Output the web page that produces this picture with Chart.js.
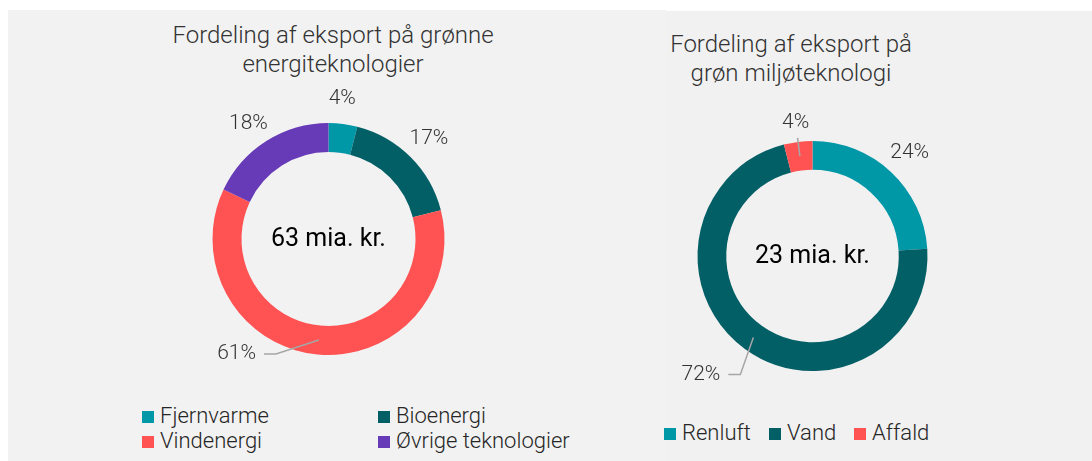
<!DOCTYPE html>
<html>
<head>
<meta charset="utf-8">
<script src="https://cdn.jsdelivr.net/npm/chart.js@4.4.1/dist/chart.umd.min.js"></script>
<style>
  html, body { margin:0; padding:0; background:#ffffff; }
  #wrap { position:relative; width:1092px; height:461px; overflow:hidden; font-family: Roboto, "Noto Sans", sans-serif; }
  .panel { position:absolute; }
  #pL { left:8px; top:10px; width:658px; height:451px; background:#f2f2f2; }
  #pR { left:666px; top:11px; width:426px; height:450px; background:#f1f1f1; }
  canvas { position:absolute; left:0; top:0; }
  .title { position:absolute; transform:translateX(-50%); text-align:center; white-space:nowrap;
           font-size:24px; font-weight:300; line-height:29px; color:#333333; }
  .leg { position:absolute; font-size:22px; font-weight:300; color:#262626; white-space:nowrap; line-height:24px; }
  .leg .box { display:inline-block; width:12px; height:12px; margin-right:6px; vertical-align:0px; }
</style>
</head>
<body>
<div id="wrap">
  <div class="panel" id="pL"></div>
  <div class="panel" id="pR"></div>
  <div class="title" id="tL" style="left:333px; top:21px;"></div>
  <div class="title" id="tR" style="left:791px; top:30px;"></div>
  <div id="legL"></div>
  <div id="legR"></div>
  <canvas id="cL" width="1092" height="461"></canvas>
  <canvas id="cR" width="1092" height="461"></canvas>
</div>
<script>
// ---------- DATA ----------
const energyTitle = ["Fordeling af eksport på grønne", "energiteknologier"];
const energyCategories = ["Fjernvarme", "Bioenergi", "Vindenergi", "Øvrige teknologier"];
const energyShares = [4, 17, 61, 18];
const energyTotalLabel = "63 mia. kr.";

const envTitle = ["Fordeling af eksport på", "grøn miljøteknologi"];
const envCategories = ["Renluft", "Vand", "Affald"];
const envShares = [24, 72, 4];
const envTotalLabel = "23 mia. kr.";

// ---------- STYLE ----------
const C_TEAL = "#0097a7", C_DARK = "#035f66", C_RED = "#ff5252", C_PURPLE = "#673ab7";
const energyColors = [C_TEAL, C_DARK, C_RED, C_PURPLE];
const envColors = [C_TEAL, C_DARK, C_RED];

// label placement: plain (radius + nudge) or leader lines
const energyLabelCfg = [
  {r:142, dx:-4, dy:1},
  {r:142, dx:0, dy:0},
  {leader:[[-43,14],[-55,14]], gap:8},
  {r:142, dx:-4, dy:5}
];
const envLabelCfg = [
  {r:142, dx:0, dy:0},
  {leader:[[-13,37],[-25,37]], gap:8},
  {radial:[119], r:134}
];

const labelPlugin = {
  id: 'pctLabels',
  afterDraw(chart, args, opts) {
    const ctx = chart.ctx;
    const meta = chart.getDatasetMeta(0);
    const data = chart.data.datasets[0].data;
    const total = data.reduce((a,b)=>a+b,0);
    ctx.save();
    meta.data.forEach((arc, i) => {
      const p = arc.getProps(['x','y','startAngle','endAngle','innerRadius','outerRadius'], true);
      const mid = (p.startAngle + p.endAngle) / 2;
      const cfg = opts.cfg[i];
      const txt = Math.round(data[i] / total * 100) + "%";
      ctx.font = "300 21px Roboto";
      ctx.fillStyle = "#333333";
      ctx.textBaseline = "middle";
      const midR = (p.innerRadius + p.outerRadius) / 2;
      const ax = p.x + Math.cos(mid) * midR, ay = p.y + Math.sin(mid) * midR;
      ctx.strokeStyle = "#a6a6a6";
      ctx.lineWidth = 1.5;
      if (cfg.leader) {
        ctx.beginPath();
        ctx.moveTo(ax, ay);
        cfg.leader.forEach(o => ctx.lineTo(ax + o[0], ay + o[1]));
        ctx.stroke();
        const last = cfg.leader[cfg.leader.length - 1];
        ctx.textAlign = "right";
        ctx.fillText(txt, ax + last[0] - cfg.gap, ay + last[1]);
      } else if (cfg.radial) {
        const r2 = cfg.radial[0];
        ctx.beginPath();
        ctx.moveTo(ax, ay);
        ctx.lineTo(p.x + Math.cos(mid) * r2, p.y + Math.sin(mid) * r2);
        ctx.stroke();
        ctx.textAlign = "center";
        ctx.fillText(txt, p.x + Math.cos(mid) * cfg.r, p.y + Math.sin(mid) * cfg.r);
      } else {
        ctx.textAlign = "center";
        ctx.fillText(txt, p.x + Math.cos(mid) * cfg.r + cfg.dx, p.y + Math.sin(mid) * cfg.r + cfg.dy);
      }
    });
    // center text
    const a0 = meta.data[0];
    ctx.font = "400 25px Roboto";
    ctx.fillStyle = "#000000";
    ctx.textAlign = "center";
    ctx.textBaseline = "middle";
    ctx.fillText(opts.center, a0.x, a0.y + 1);
    ctx.restore();
  }
};

function makeDonut(id, shares, colors, pad, cfg, center) {
  return new Chart(document.getElementById(id), {
    type: 'doughnut',
    data: { labels: [], datasets: [{ data: shares, backgroundColor: colors, borderWidth: 0 }] },
    options: {
      responsive: false,
      animation: false,
      cutout: '75%',
      layout: { padding: pad },
      plugins: { legend: { display: false }, tooltip: { enabled: false }, pctLabels: { cfg: cfg, center: center } },
      events: []
    },
    plugins: [labelPlugin]
  });
}

makeDonut('cL', energyShares, energyColors, {left:212.5, right:647.5, top:123, bottom:106}, energyLabelCfg, energyTotalLabel);
makeDonut('cR', envShares, envColors, {left:697.5, right:164.5, top:141, bottom:90}, envLabelCfg, envTotalLabel);

// titles
document.getElementById('tL').innerHTML = energyTitle.join("<br>");
document.getElementById('tR').innerHTML = envTitle.join("<br>");

// legends
function legendItem(text, color, x, y) {
  const d = document.createElement('div');
  d.className = 'leg';
  d.style.left = x + 'px';
  d.style.top = y + 'px';
  d.innerHTML = '<span class="box" style="background:' + color + '"></span>' + text;
  return d;
}
const legL = document.getElementById('legL');
const lPos = [[142,404],[378,404],[142,429],[378,429]];
energyCategories.forEach((c,i) => legL.appendChild(legendItem(c, energyColors[i], lPos[i][0], lPos[i][1])));
const legR = document.getElementById('legR');
const rPos = [[664,421],[769,421],[854,421]];
envCategories.forEach((c,i) => legR.appendChild(legendItem(c, envColors[i], rPos[i][0], rPos[i][1])));
</script>
</body>
</html>
